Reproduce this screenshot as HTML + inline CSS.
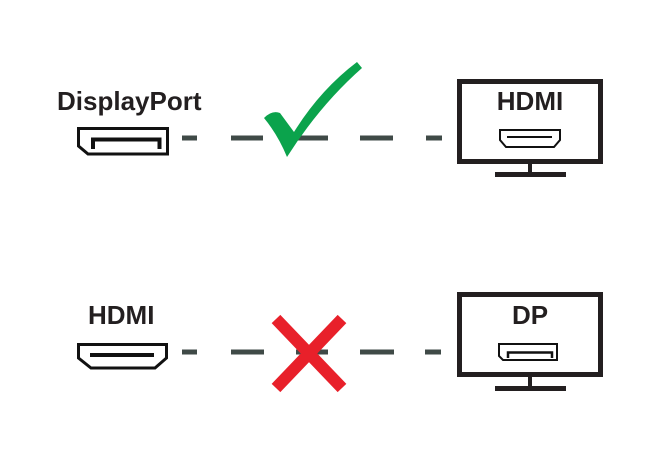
<!DOCTYPE html>
<html><head><meta charset="utf-8"><style>
html,body{margin:0;padding:0;background:#fff;width:658px;height:460px;overflow:hidden}
svg{display:block}
text{font-family:"Liberation Sans",sans-serif;font-weight:bold;fill:#231f20;font-size:26px}
</style></head><body>
<svg width="658" height="460" viewBox="0 0 658 460" xmlns="http://www.w3.org/2000/svg">
<!-- top row -->
<text x="57" y="110">DisplayPort</text>
<path d="M78.5,128.5 H167.5 V154 H88 L78.5,146 Z" fill="none" stroke="#111" stroke-width="3"/>
<path d="M93,149 V139.5 H159.5 V149" fill="none" stroke="#111" stroke-width="4"/>
<g stroke="#3f4a47" stroke-width="5">
<line x1="182" y1="138" x2="197" y2="138"/>
<line x1="231" y1="138" x2="263" y2="138"/>
<line x1="296" y1="138" x2="328" y2="138"/>
<line x1="360" y1="138" x2="393" y2="138"/>
<line x1="426" y1="138" x2="442" y2="138"/>
</g>
<path d="M264,118 Q272,110 280,113 L294,132 Q320,90 357,62 L362,68 Q320,105 287,157 Q278,135 264,118 Z" fill="#0ba34c"/>
<rect x="459.5" y="81.5" width="141" height="80" fill="none" stroke="#231f20" stroke-width="5"/>
<text x="530" y="110" text-anchor="middle">HDMI</text>
<path d="M500,130 H560 V140 L554,147 H506 L500,140 Z" fill="none" stroke="#111" stroke-width="2"/>
<line x1="507" y1="137" x2="552" y2="137" stroke="#111" stroke-width="2"/>
<rect x="528" y="163" width="4" height="10" fill="#231f20"/>
<rect x="495" y="172" width="71" height="5" fill="#231f20"/>
<!-- bottom row -->
<text x="88" y="324">HDMI</text>
<path d="M78.5,344.5 H166.5 V358 L155,368 H91 L78.5,358 Z" fill="none" stroke="#111" stroke-width="3"/>
<line x1="90" y1="355" x2="154" y2="355" stroke="#111" stroke-width="4"/>
<g stroke="#3f4a47" stroke-width="5">
<line x1="182" y1="352" x2="197" y2="352"/>
<line x1="231" y1="352" x2="264" y2="352"/>
<line x1="296" y1="352" x2="328" y2="352"/>
<line x1="360" y1="352" x2="394" y2="352"/>
<line x1="425" y1="352" x2="441" y2="352"/>
</g>
<g stroke="#e8202a" stroke-width="12">
<line x1="276" y1="319" x2="342" y2="388"/>
<line x1="342" y1="319" x2="276" y2="388"/>
</g>
<rect x="459.5" y="294.5" width="141" height="80" fill="none" stroke="#231f20" stroke-width="5"/>
<text x="530" y="324" text-anchor="middle">DP</text>
<path d="M499,344 H557 V360 H503 L499,356 Z" fill="none" stroke="#111" stroke-width="2"/>
<path d="M508,358 V352.5 H552 V358" fill="none" stroke="#111" stroke-width="2.5"/>
<rect x="528" y="377" width="4" height="10" fill="#231f20"/>
<rect x="495" y="386" width="71" height="5" fill="#231f20"/>
</svg>
</body></html>
